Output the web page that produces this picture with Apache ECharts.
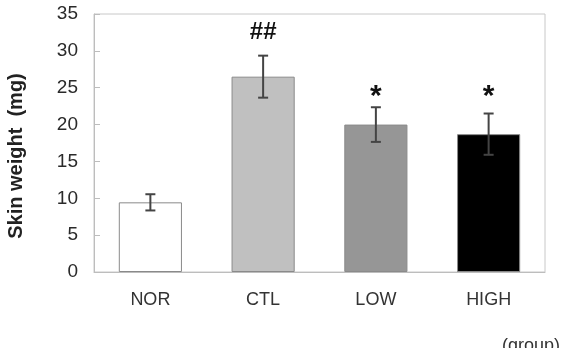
<!DOCTYPE html>
<html>
<head>
<meta charset="utf-8">
<script src="https://cdn.jsdelivr.net/npm/echarts@6/dist/echarts.min.js"></script>
<style>
  html, body { margin: 0; padding: 0; background: #fff; }
  #chart { width: 565px; height: 348px; }
</style>
</head>
<body>
<div id="chart"></div>
<script>
  // values
  var groups = ['NOR', 'CTL', 'LOW', 'HIGH']
  var means = [9.45, 26.5, 20.0, 18.7]
  var errs = [1.1, 2.85, 2.35, 2.8]
  var barColors = ['#ffffff', '#c0c0c0', '#969696', '#000000']
  var marks = ['', '##', '*', '*']
  var markY = [null, 32.5, 23.8, 23.8]
  var yTicks = [0, 5, 10, 15, 20, 25, 30, 35]

  var chart = echarts.init(document.getElementById('chart'))
  var font = '"Liberation Sans", Arial, sans-serif'

  var option = {
    animation: false,
    grid: {
      left: 94, right: 20, top: 14, bottom: 76,
      show: true, borderColor: '#c8c8c8', borderWidth: 1
    },
    xAxis: {
      type: 'category',
      data: groups,
      axisLine: { lineStyle: { color: '#bdbdbd', width: 1 } },
      axisTick: { inside: true, length: 5, lineStyle: { color: '#bdbdbd' } },
      axisLabel: { color: '#333', fontSize: 18, fontFamily: font, margin: 19 },
      splitLine: { show: false }
    },
    yAxis: {
      type: 'value',
      min: yTicks[0],
      max: yTicks[yTicks.length - 1],
      interval: 5,
      axisLine: { show: true, lineStyle: { color: '#bdbdbd', width: 1 } },
      axisTick: { show: true, inside: true, length: 6, lineStyle: { color: '#bdbdbd' } },
      axisLabel: { color: '#2a2a2a', fontSize: 19, fontFamily: font, margin: 16 },
      splitLine: { show: false }
    },
    graphic: [
      {
        type: 'text',
        x: 16, y: 156,
        rotation: Math.PI / 2,
        style: {
          text: 'Skin weight  (mg)',
          fontSize: 20, fontWeight: 'bold', fontFamily: font,
          fill: '#222', align: 'center', verticalAlign: 'middle'
        }
      },
      {
        type: 'text',
        right: 5, top: 337,
        style: { text: '(group)', fontSize: 18, fontFamily: font, fill: '#333' }
      }
    ],
    series: [
      {
        type: 'bar',
        barWidth: '56%',
        data: means.map(function (v, i) {
          return { value: v, itemStyle: { color: barColors[i] } }
        }),
        itemStyle: { borderColor: '#8a8a8a', borderWidth: 1 }
      },
      {
        // error bars
        type: 'custom',
        z: 5,
        data: means.map(function (v, i) { return [i, v, errs[i]] }),
        renderItem: function (params, api) {
          var i = api.value(0)
          var hi = api.coord([i, api.value(1) + api.value(2)])
          var lo = api.coord([i, api.value(1) - api.value(2)])
          var cap = 5
          var st = { stroke: '#444', lineWidth: 2 }
          return {
            type: 'group',
            children: [
              { type: 'line', shape: { x1: hi[0], y1: hi[1], x2: lo[0], y2: lo[1] }, style: st },
              { type: 'line', shape: { x1: hi[0] - cap, y1: hi[1], x2: hi[0] + cap, y2: hi[1] }, style: st },
              { type: 'line', shape: { x1: lo[0] - cap, y1: lo[1], x2: lo[0] + cap, y2: lo[1] }, style: st }
            ]
          }
        }
      },
      {
        // significance marks
        type: 'custom',
        z: 6,
        data: marks.map(function (m, i) { return [i, markY[i] == null ? 0 : markY[i]] }),
        renderItem: function (params, api) {
          var i = params.dataIndex
          if (!marks[i]) return null
          var p = api.coord([api.value(0), api.value(1)])
          var star = marks[i] === '*'
          return {
            type: 'text',
            x: p[0], y: p[1],
            style: {
              text: marks[i],
              fontSize: star ? 30 : 24,
              fontWeight: 'bold',
              fontFamily: font,
              fill: '#111',
              align: 'center',
              verticalAlign: 'middle'
            }
          }
        }
      }
    ]
  }

  chart.setOption(option)
</script>
</body>
</html>
